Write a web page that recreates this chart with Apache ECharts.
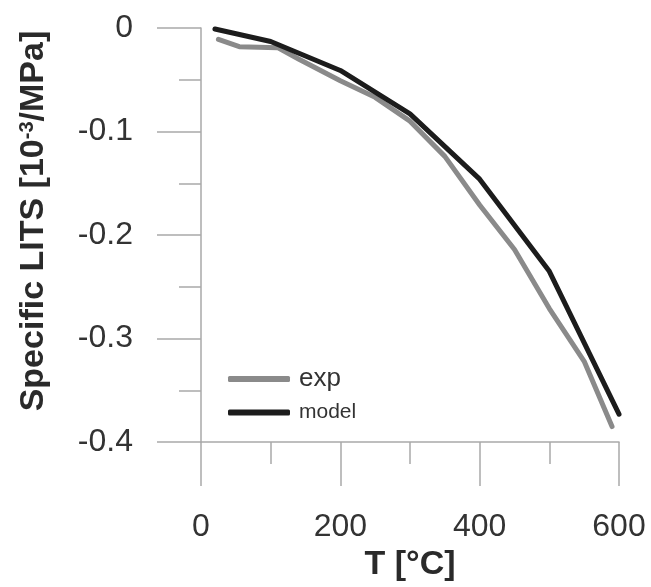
<!DOCTYPE html>
<html>
<head>
<meta charset="utf-8">
<script src="https://cdn.jsdelivr.net/npm/echarts@6/dist/echarts.min.js"></script>
<style>
html,body{margin:0;padding:0;background:#fff;}
#chart{width:651px;height:587px;}
</style>
</head>
<body>
<div id="chart"></div>
<script>
// Data
const expT = [25, 55, 110, 140, 200, 250, 300, 350, 400, 450, 500, 550, 590];
const expV = [-0.011, -0.018, -0.019, -0.030, -0.051, -0.067, -0.090, -0.124, -0.171, -0.214, -0.271, -0.322, -0.385];
const modelT = [20, 100, 200, 300, 400, 500, 600];
const modelV = [-0.001, -0.013, -0.041, -0.083, -0.146, -0.235, -0.373];
const xTicks = [0, 200, 400, 600];
const yTicks = [0, -0.1, -0.2, -0.3, -0.4];
const seriesNames = ['exp', 'model'];

const FONT = '"Liberation Sans", Arial, sans-serif';
const AXIS_COLOR = '#a9a9a9';
const TEXT_COLOR = '#333333';

const chart = echarts.init(document.getElementById('chart'), null, {renderer: 'canvas'});

function axisCommon() {
  return {
    axisLine: {show: true, onZero: false, lineStyle: {color: AXIS_COLOR, width: 1.5}},
    axisTick: {show: true, inside: false, length: 44, lineStyle: {color: AXIS_COLOR, width: 1.5}},
    minorTick: {show: true, splitNumber: 2, length: 22, lineStyle: {color: AXIS_COLOR, width: 1.5}},
    splitLine: {show: false},
    minorSplitLine: {show: false}
  };
}

chart.setOption({
  animation: false,
  backgroundColor: '#ffffff',
  textStyle: {fontFamily: FONT},
  grid: {left: 201, top: 28, width: 418, height: 417, containLabel: false},
  legend: [
    {
      data: [seriesNames[0]], left: 223, top: 361, orient: 'vertical',
      icon: 'roundRect', itemWidth: 62, itemHeight: 6,
      formatter: n => '{a|' + n + '}',
      textStyle: {padding: [0, 0, 0, 4], rich: {a: {fontSize: 26, color: TEXT_COLOR, fontFamily: FONT}}}
    },
    {
      data: [seriesNames[1]], left: 223, top: 397, orient: 'vertical',
      icon: 'roundRect', itemWidth: 62, itemHeight: 6,
      formatter: n => '{b|' + n + '}',
      textStyle: {padding: [0, 0, 0, 4], rich: {b: {fontSize: 21, color: TEXT_COLOR, fontFamily: FONT}}}
    }
  ],
  xAxis: Object.assign({
    type: 'value', min: xTicks[0], max: xTicks[xTicks.length - 1], interval: xTicks[1] - xTicks[0],
    name: 'T [°C]', nameLocation: 'middle', nameGap: 105,
    nameTextStyle: {fontSize: 34, fontWeight: 'bold', color: '#2a2a2a', fontFamily: FONT},
    axisLabel: {fontSize: 32, color: TEXT_COLOR, margin: 69, fontFamily: FONT}
  }, axisCommon()),
  yAxis: Object.assign({
    type: 'value', min: yTicks[yTicks.length - 1], max: yTicks[0], interval: 0.1,
    name: '{t|Specific LITS [10}{s|-3}{t|/MPa]}', nameLocation: 'middle', nameGap: 150,
    nameTextStyle: {
      padding: [0, 0, 0, 28],
      rich: {
        t: {fontSize: 34, fontWeight: 'bold', color: '#2a2a2a', fontFamily: FONT},
        s: {fontSize: 20, fontWeight: 'bold', color: '#2a2a2a', fontFamily: FONT, verticalAlign: 'top', padding: [0, 0, 14, 0]}
      }
    },
    axisLabel: {fontSize: 32, color: TEXT_COLOR, margin: 68, fontFamily: FONT,
      formatter: v => String(Math.round(v * 10) / 10)}
  }, axisCommon()),
  series: [
    {
      name: seriesNames[0], type: 'line', showSymbol: false, symbol: 'none',
      data: expT.map((t, i) => [t, expV[i]]),
      lineStyle: {color: '#8a8a8a', width: 5, cap: 'round', join: 'round'},
      itemStyle: {color: '#8a8a8a'}, z: 2
    },
    {
      name: seriesNames[1], type: 'line', showSymbol: false, symbol: 'none',
      data: modelT.map((t, i) => [t, modelV[i]]),
      lineStyle: {color: '#1c1c1c', width: 5, cap: 'round', join: 'round'},
      itemStyle: {color: '#1c1c1c'}, z: 3
    }
  ]
});
</script>
</body>
</html>
